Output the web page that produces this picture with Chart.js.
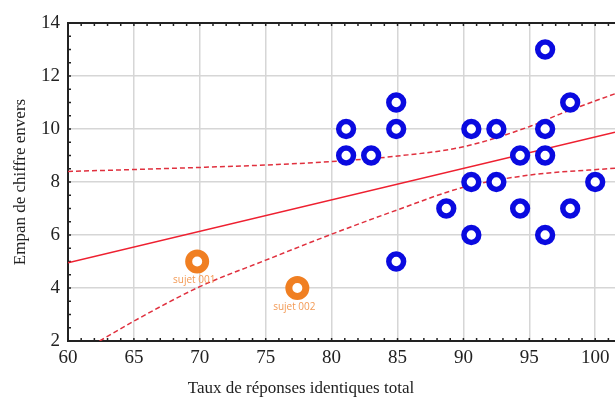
<!DOCTYPE html>
<html>
<head>
<meta charset="utf-8">
<script src="https://cdn.jsdelivr.net/npm/chart.js@4.4.1/dist/chart.umd.min.js"></script>
<style>
    html, body { margin: 0; padding: 0; background: #ffffff; }
    #wrap { width: 615px; height: 401px; }
</style>
</head>
<body>
<div id="wrap"><canvas id="empanChart" width="615" height="401"></canvas></div>
<script>
// points (x = taux de réponses identiques, y = empan)
const blueX = [96.2, 98.1, 84.9, 81.1, 84.9, 90.6, 92.5, 96.2, 81.1, 83.0, 94.3, 96.2, 90.6, 92.5, 100, 88.7, 94.3, 98.1, 90.6, 96.2, 84.9];
const blueY = [13, 11, 11, 10, 10, 10, 10, 10, 9, 9, 9, 9, 8, 8, 8, 7, 7, 7, 6, 6, 5];

const subjectX = [69.8, 77.4];
const subjectY = [5, 4];
const subjectNames = ["sujet 001", "sujet 002"];

// regression line + confidence band
const fitX = [60, 101.5];
const fitY = [4.95, 9.88];
const upperX = [60, 65, 70, 75, 80, 85, 90, 95, 97.5, 101.5];
const upperY = [8.4, 8.47, 8.55, 8.64, 8.77, 8.98, 9.33, 10.09, 10.6, 11.33];
const lowerX = [62.4, 65, 70, 75, 80, 85, 90, 95, 101.5];
const lowerY = [2.0, 2.75, 4.05, 5.05, 6.03, 6.95, 7.8, 8.26, 8.52];

const xTicks = [60, 65, 70, 75, 80, 85, 90, 95, 100];
const yTicks = [2, 4, 6, 8, 10, 12, 14];

const serif = "'Liberation Serif', 'DejaVu Serif', serif";
const ink = "#222222";

function toPoints(xs, ys) {
    return xs.map((x, i) => ({x: x, y: ys[i]}));
}

const frameAndTicks = {
    id: "frameAndTicks",
    beforeDatasetsDraw(chart) {
        const ctx = chart.ctx;
        const area = chart.chartArea;
        const xs = chart.scales.x;
        const ys = chart.scales.y;
        ctx.save();
        ctx.strokeStyle = ink;
        ctx.lineWidth = 2;
        ctx.beginPath();
        ctx.moveTo(area.left, area.top);
        ctx.lineTo(area.right, area.top);
        ctx.stroke();

        ctx.lineWidth = 1.5;
        ctx.beginPath();
        for (let v = 60; v <= 101; v += 1) {
            const px = xs.getPixelForValue(v);
            ctx.moveTo(px, area.bottom);
            ctx.lineTo(px, area.bottom - 3);
            ctx.moveTo(px, area.top);
            ctx.lineTo(px, area.top + 3);
        }
        for (let v = 2; v <= 14; v += 0.5) {
            const py = ys.getPixelForValue(v);
            ctx.moveTo(area.left, py);
            ctx.lineTo(area.left + 3, py);
        }
        ctx.stroke();
        ctx.restore();
    },
    afterDraw(chart) {
        const ctx = chart.ctx;
        ctx.save();
        ctx.fillStyle = ink;
        ctx.textAlign = "center";
        ctx.textBaseline = "middle";

        // axis titles
        ctx.font = "17px " + serif;
        ctx.fillText("Taux de réponses identiques total", 301, 389);
        ctx.save();
        ctx.translate(21, (chart.chartArea.top + chart.chartArea.bottom) / 2);
        ctx.rotate(-Math.PI / 2);
        ctx.fillText("Empan de chiffre envers", 0, 0);
        ctx.restore();

        // subject labels under the orange points
        const meta = chart.getDatasetMeta(0);
        ctx.fillStyle = "#f39a55";
        ctx.font = "10px 'Open Sans', sans-serif";
        meta.data.forEach((pt, i) => {
            ctx.fillText(subjectNames[i], pt.x - 3, pt.y + 19);
        });
        ctx.restore();
    }
};

const config = {
    type: "scatter",
    data: {
        datasets: [
            {
                label: "sujets",
                data: toPoints(subjectX, subjectY),
                pointRadius: 8.5,
                pointHoverRadius: 8.5,
                borderWidth: 7,
                pointBorderWidth: 7,
                borderColor: "#f07f22",
                backgroundColor: "#ffffff"
            },
            {
                label: "groupe",
                data: toPoints(blueX, blueY),
                pointRadius: 7.4,
                pointHoverRadius: 7.4,
                borderWidth: 5.5,
                pointBorderWidth: 5.5,
                borderColor: "#0a0ae0",
                backgroundColor: "#ffffff"
            },
            {
                label: "régression",
                type: "line",
                data: toPoints(fitX, fitY),
                borderColor: "#ee2030",
                borderWidth: 1.6,
                pointRadius: 0,
                fill: false
            },
            {
                label: "IC haut",
                type: "line",
                data: toPoints(upperX, upperY),
                borderColor: "#e0303e",
                borderWidth: 1.5,
                borderDash: [5, 3],
                pointRadius: 0,
                cubicInterpolationMode: "monotone",
                fill: false
            },
            {
                label: "IC bas",
                type: "line",
                data: toPoints(lowerX, lowerY),
                borderColor: "#e0303e",
                borderWidth: 1.5,
                borderDash: [5, 3],
                pointRadius: 0,
                cubicInterpolationMode: "monotone",
                fill: false
            }
        ]
    },
    options: {
        animation: false,
        responsive: false,
        layout: {
            autoPadding: false,
            padding: {top: 23, right: 0, left: 0, bottom: 0}
        },
        plugins: {
            legend: {display: false},
            tooltip: {enabled: false}
        },
        scales: {
            x: {
                type: "linear",
                min: 60,
                max: 101.5,
                afterBuildTicks: (scale) => {
                    scale.ticks = xTicks.map(v => ({value: v}));
                },
                afterFit: (scale) => {
                    scale.height = 60;
                    scale.paddingLeft = 0;
                    scale.paddingRight = 0;
                },
                ticks: {
                    color: ink,
                    font: {family: serif, size: 19},
                    padding: 6
                },
                grid: {
                    color: "#d6d6d6",
                    lineWidth: 1.5,
                    drawTicks: false
                },
                border: {display: true, color: ink, width: 2}
            },
            y: {
                min: 2,
                max: 14,
                afterBuildTicks: (scale) => {
                    scale.ticks = yTicks.map(v => ({value: v}));
                },
                afterFit: (scale) => {
                    scale.width = 68;
                    scale.paddingTop = 0;
                    scale.paddingBottom = 0;
                },
                ticks: {
                    color: ink,
                    font: {family: serif, size: 19},
                    padding: 8
                },
                grid: {
                    color: "#d6d6d6",
                    lineWidth: 1.5,
                    drawTicks: false
                },
                border: {display: true, color: ink, width: 2}
            }
        }
    },
    plugins: [frameAndTicks]
};

let empanChart = new Chart(document.getElementById("empanChart").getContext("2d"), config);
</script>
</body>
</html>
